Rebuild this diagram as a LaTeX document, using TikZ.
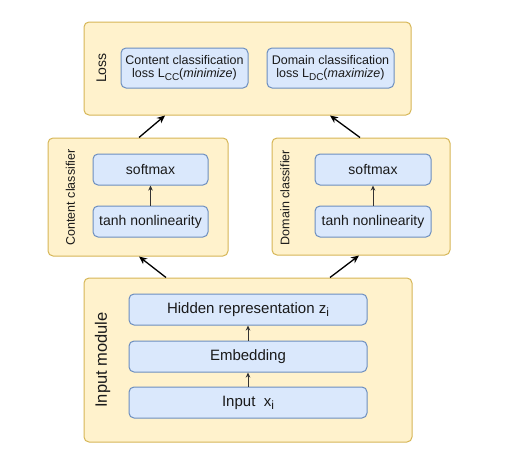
\documentclass[tikz,border=0pt]{standalone}
\usepackage{fontspec}
\setmainfont{Liberation Sans}
\usetikzlibrary{calc,arrows.meta}
\definecolor{yfill}{HTML}{FFF2CC}
\definecolor{ydraw}{HTML}{D6B656}
\definecolor{bfill}{HTML}{DAE8FC}
\definecolor{bdraw}{HTML}{6C8EBF}
\definecolor{txt}{HTML}{1A1A1A}
\newcommand{\fs}[1]{\fontsize{#1}{#1}\selectfont}
\newcommand{\sbx}[2]{\raisebox{-#1}{\fontsize{#2}{#2}\selectfont}}
\newcommand{\mysub}[3]{\raisebox{-#1}{\fontsize{#2}{#2}\selectfont #3}}
\begin{document}
\begin{tikzpicture}[x=1pt,y=-1pt,
  outerbox/.style={draw=ydraw, fill=yfill, line width=1pt, rounded corners=5pt, inner sep=0pt},
  innerbox/.style={draw=bdraw, fill=bfill, line width=1pt, rounded corners=5pt, inner sep=0pt, align=center, text=txt},
  sidelabel/.style={rotate=90, text=txt, inner sep=0pt},
  bigarrow/.style={line width=1.3pt, -{Stealth[length=8pt,width=7pt,inset=2.5pt]}},
  smallarrow/.style={draw=black!80, line width=0.9pt, -{Stealth[length=5pt,width=4.5pt,inset=1.5pt]}}
]
\useasboundingbox (0,0) rectangle (512,455);

% Loss
\node[outerbox, minimum width=327pt, minimum height=93pt] (loss) at (247.5,68.5) {};
\node[sidelabel, font=\fs{14}] (losslbl) at (101.5,68) {Loss};
\node[innerbox, minimum width=127pt, minimum height=40pt, font=\fs{12.5}, align=center] (lcc) at (184.5,68)
  {Content classification\\[1pt]loss L\mysub{3pt}{10}{CC}(\textit{minimize})};
\node[innerbox, minimum width=127pt, minimum height=40pt, font=\fs{12.5}, align=center] (ldc) at (330.5,68)
  {Domain classification\\[1pt]loss L\mysub{3pt}{10}{DC}(\textit{maximize})};

% Content classifier
\node[outerbox, minimum width=180pt, minimum height=118pt] (cc) at (138,197) {};
\node[sidelabel, font=\fs{12.5}] (cclbl) at (70.5,197.5) {Content classifier};
\node[innerbox, minimum width=115pt, minimum height=31pt, font=\fs{14}] (ccsoft) at (150.5,169.5) {softmax};
\node[innerbox, minimum width=115pt, minimum height=31pt, font=\fs{14}] (cctanh) at (150.5,221.5) {tanh nonlinearity};
\draw[smallarrow] (cctanh) -- (ccsoft);

% Domain classifier
\node[outerbox, minimum width=178pt, minimum height=117pt] (dc) at (361,196.5) {};
\node[sidelabel, font=\fs{12.5}] (dclbl) at (285,197.5) {Domain classifier};
\node[innerbox, minimum width=116pt, minimum height=31pt, font=\fs{14}] (dcsoft) at (373,169.5) {softmax};
\node[innerbox, minimum width=116pt, minimum height=31pt, font=\fs{14}] (dctanh) at (373,221.5) {tanh nonlinearity};
\draw[smallarrow] (dctanh) -- (dcsoft);

% Input module
\node[outerbox, minimum width=328pt, minimum height=164pt] (inp) at (248,360) {};
\node[sidelabel, font=\fs{16.5}] (inplbl) at (102.5,360) {Input module};
\node[innerbox, minimum width=238pt, minimum height=31pt, font=\fs{15}] (hid) at (248,309.5) {Hidden representation z\mysub{3pt}{12}{i}};
\node[innerbox, minimum width=238pt, minimum height=31pt, font=\fs{15}] (emb) at (248,356.5) {Embedding};
\node[innerbox, minimum width=238pt, minimum height=31pt, font=\fs{15}] (xin) at (248,402.5) {Input\ \ x\mysub{3pt}{12}{i}};
\draw[smallarrow] (emb) -- (hid);
\draw[smallarrow] (xin) -- (emb);

% Big arrows
\draw[bigarrow] ($(inp.north)+(-82,0)$) -- ($(cc.south)+(1,0)$);
\draw[bigarrow] ($(inp.north)+(82,0)$) -- ($(dc.south)+(-2,0)$);
\draw[bigarrow] ($(cc.north)+(1,0)$) -- ($(loss.south)+(-82.5,0)$);
\draw[bigarrow] ($(dc.north)+(-1,0)$) -- ($(loss.south)+(82.5,0)$);
\end{tikzpicture}
\end{document}
